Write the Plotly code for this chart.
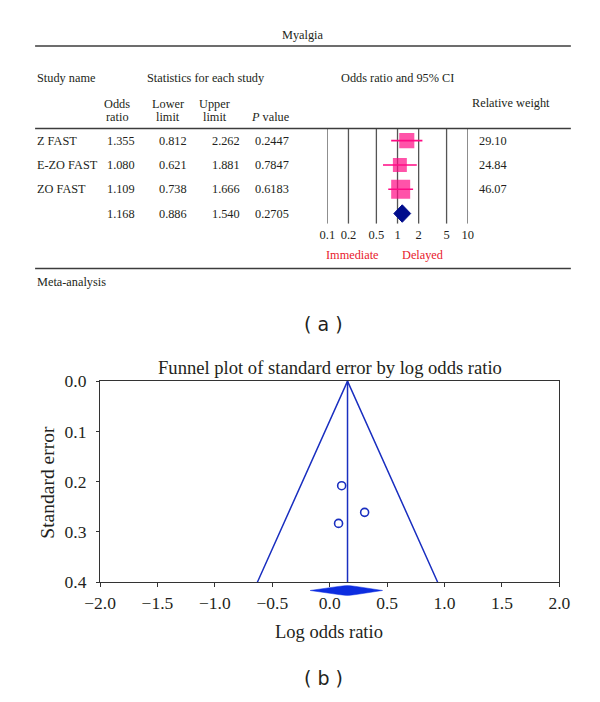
import plotly.graph_objects as go

# ---------------- data (a) forest plot ----------------
studies = ["Z FAST", "E-ZO FAST", "ZO FAST"]
odds_ratio = [1.355, 1.080, 1.109]
lower_limit = [0.812, 0.621, 0.738]
upper_limit = [2.262, 1.881, 1.666]
p_value = ["0.2447", "0.7847", "0.6183"]
rel_weight = [29.10, 24.84, 46.07]
summary_or = 1.168
summary_lower = 0.886
summary_upper = 1.540
summary_p = "0.2705"
forest_ticks = [0.1, 0.2, 0.5, 1, 2, 5, 10]

# ---------------- data (b) funnel plot ----------------
log_odds = [0.304, 0.077, 0.104]
std_error = [0.261, 0.283, 0.208]
funnel_center = 0.155
funnel_left_at_max = -0.63
funnel_right_at_max = 0.94
se_max = 0.4
funnel_diamond = [-0.17, 0.155, 0.46]   # left tip, centre, right tip

SERIF = "Liberation Serif"
TXT = "#231f20"
PINK = "#ff0a84"
NAVY = "#000c8c"
BLUE = "#1a2fc0"
DBLUE = "#0d2de0"
W, H = 600, 702
TS = 12.3  # table text size

def px(x):
    return x / W

def py(y):
    return 1 - y / H

fig = go.Figure()

# ---------- forest plot traces (x2 / y2) ----------
vx, vy = [], []
for t in forest_ticks:
    vx += [t, t, None]
    vy += [-0.5, 3.42, None]
fig.add_trace(go.Scatter(x=vx, y=vy, mode="lines", xaxis="x2", yaxis="y2",
                         line=dict(color="#555555", width=1.3), hoverinfo="skip"))
for i in range(len(studies)):
    fig.add_trace(go.Scatter(x=[lower_limit[i], upper_limit[i]], y=[i, i], mode="lines",
                             xaxis="x2", yaxis="y2", line=dict(color=PINK, width=1.6),
                             hoverinfo="skip"))
fig.add_trace(go.Scatter(x=odds_ratio, y=list(range(len(studies))), mode="markers",
                         xaxis="x2", yaxis="y2",
                         marker=dict(symbol="square", color=PINK,
                                     size=[2.8 * w ** 0.5 for w in rel_weight],
                                     line=dict(width=0))))
srow = len(studies)
fig.add_trace(go.Scatter(x=[summary_lower, summary_or, summary_upper, summary_or, summary_lower],
                         y=[srow, srow - 0.36, srow, srow + 0.36, srow],
                         mode="lines", fill="toself", fillcolor=NAVY,
                         xaxis="x2", yaxis="y2", line=dict(color=NAVY, width=1)))

# ---------- funnel plot traces (x / y) ----------
fig.add_trace(go.Scatter(x=[funnel_left_at_max, funnel_center, funnel_right_at_max],
                         y=[se_max, 0, se_max], mode="lines",
                         line=dict(color=BLUE, width=1.5)))
fig.add_trace(go.Scatter(x=[funnel_center, funnel_center], y=[0, se_max], mode="lines",
                         line=dict(color=BLUE, width=1.5)))
fig.add_trace(go.Scatter(x=log_odds, y=std_error, mode="markers",
                         marker=dict(symbol="circle-open", size=8, color=BLUE,
                                     line=dict(width=1.6, color=BLUE))))
fig.add_trace(go.Scatter(x=[funnel_diamond[0], funnel_diamond[1], funnel_diamond[2],
                            funnel_diamond[1], funnel_diamond[0]],
                         y=[0, 1, 0, -1, 0], mode="lines", fill="toself",
                         fillcolor=DBLUE, line=dict(color=DBLUE, width=0.5),
                         xaxis="x", yaxis="y4"))

# ---------- annotations ----------
ann = []

def text(x, y, s, size=TS, anchor="left", color=TXT, font=SERIF, yref="paper", yv=None, **kw):
    ann.append(dict(x=px(x), y=(py(y) if yv is None else yv), xref="paper", yref=yref,
                    text=s, showarrow=False, xanchor=anchor, yanchor="middle",
                    font=dict(family=font, size=size, color=color), **kw))

text(301, 26, "Myalgia", anchor="center")
text(20, 70, "Study name")
text(135, 70, "Statistics for each study")
text(338, 70, "Odds ratio and 95% CI")
text(106, 97, "Odds", anchor="center")
text(106, 110, "ratio", anchor="center")
text(159, 97, "Lower", anchor="center")
text(159, 110, "limit", anchor="center")
text(208, 97, "Upper", anchor="center")
text(208, 110, "limit", anchor="center")
text(267, 110, "<i>P</i> value", anchor="center")
text(475, 96, "Relative weight")

col_x = [110, 164, 220, 268]
for i, s in enumerate(studies):
    text(20, 0, s, yref="y2", yv=i)
    text(col_x[0], 0, f"{odds_ratio[i]:.3f}", anchor="center", yref="y2", yv=i)
    text(col_x[1], 0, f"{lower_limit[i]:.3f}", anchor="center", yref="y2", yv=i)
    text(col_x[2], 0, f"{upper_limit[i]:.3f}", anchor="center", yref="y2", yv=i)
    text(col_x[3], 0, p_value[i], anchor="center", yref="y2", yv=i)
    text(483, 0, f"{rel_weight[i]:.2f}", yref="y2", yv=i)
text(col_x[0], 0, f"{summary_or:.3f}", anchor="center", yref="y2", yv=srow)
text(col_x[1], 0, f"{summary_lower:.3f}", anchor="center", yref="y2", yv=srow)
text(col_x[2], 0, f"{summary_upper:.3f}", anchor="center", yref="y2", yv=srow)
text(col_x[3], 0, summary_p, anchor="center", yref="y2", yv=srow)

text(352, 252, "Immediate", anchor="center", color="#e8192c")
text(426, 252, "Delayed", anchor="center", color="#e8192c")
text(20, 280, "Meta-analysis")
text(322, 323, "( a )", anchor="center", size=19, font="DejaVu Sans")

text(329, 368, "Funnel plot of standard error by log odds ratio", anchor="center", size=18.6)
text(328, 640, "Log odds ratio", anchor="center", size=18.5)
text(33, 486, "Standard error", anchor="center", size=19.5, textangle=-90)
text(322, 688, "( b )", anchor="center", size=19, font="DejaVu Sans")

# ---------- table rules ----------
shapes = []
for yy in [37, 122, 266]:
    shapes.append(dict(type="line", xref="paper", yref="paper", x0=px(20), x1=px(581),
                       y0=py(yy), y1=py(yy), line=dict(color="#3c3c3c", width=1.5)))

fig.update_layout(
    width=W, height=H, margin=dict(l=0, r=0, t=0, b=0), autosize=False,
    paper_bgcolor="white", plot_bgcolor="white", showlegend=False,
    annotations=ann, shapes=shapes,
    xaxis=dict(domain=[px(88), px(569)], range=[-2, 2], tick0=-2, dtick=0.5,
               tickformat=".1f", ticks="outside", ticklen=4, tickwidth=1.2,
               tickcolor="#333", showline=True, mirror=True, linecolor="#333",
               linewidth=1.3, showgrid=False, zeroline=False, anchor="y",
               ticklabelstandoff=1,
               tickfont=dict(family=SERIF, size=17.5, color=TXT)),
    yaxis=dict(domain=[py(589), py(382)], range=[0.4, 0], tick0=0, dtick=0.1,
               tickformat=".1f", ticks="outside", ticklen=3, tickwidth=1.2,
               tickcolor="#333", showline=True, mirror=True, linecolor="#333",
               linewidth=1.3, showgrid=False, zeroline=False, anchor="x",
               ticklabelstandoff=6,
               tickfont=dict(family=SERIF, size=17.5, color=TXT)),
    yaxis4=dict(domain=[py(603), py(592)], range=[-1, 1], visible=False, anchor="x"),
    xaxis2=dict(type="log", domain=[px(326), px(473)], range=[-1, 1], anchor="y2",
                tickvals=forest_ticks, ticktext=[str(t) for t in forest_ticks],
                ticks="", showgrid=False, zeroline=False, showline=False,
                ticklabelstandoff=2,
                tickfont=dict(family=SERIF, size=12.5, color=TXT)),
    yaxis2=dict(domain=[py(220), py(122)], range=[3.42, -0.5], visible=False, anchor="x2"),
)

fig.write_html("out.html", config={"displayModeBar": False},
               post_script="document.body.style.margin='0px';")
